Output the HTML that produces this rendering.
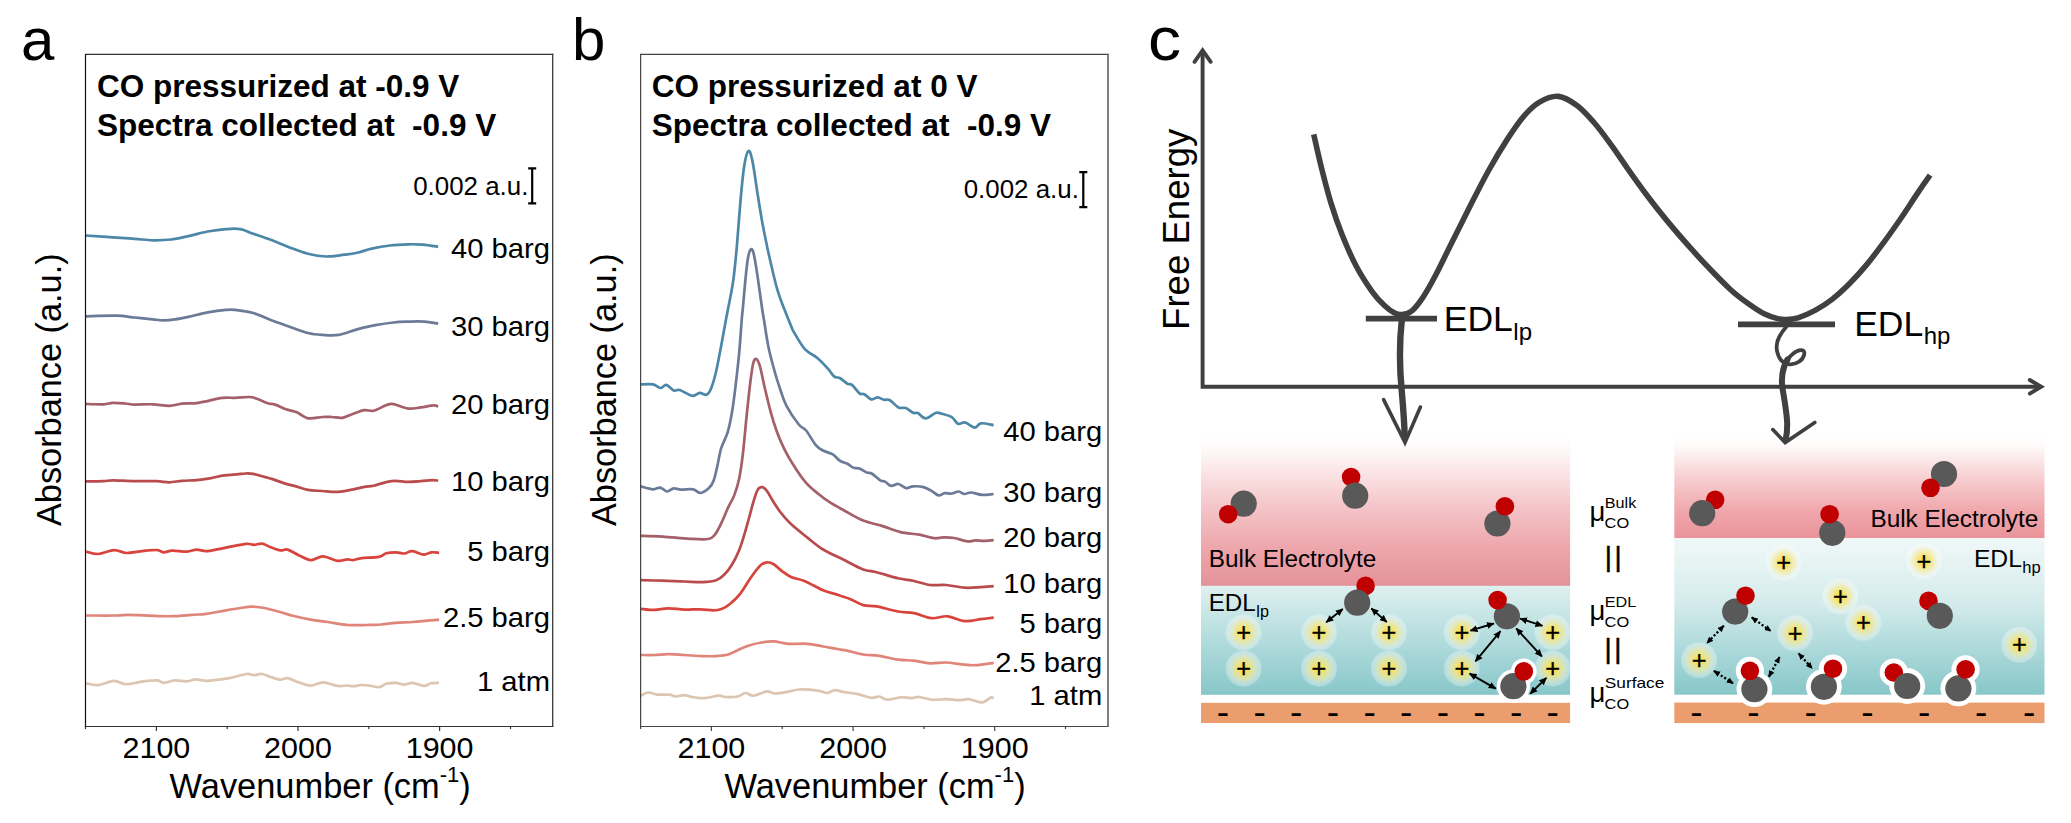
<!DOCTYPE html>
<html><head><meta charset="utf-8"><title>Figure</title>
<style>html,body{margin:0;padding:0;background:#fff}svg{display:block}text{font-family:"Liberation Sans",Arial,sans-serif;fill:#000}</style></head><body>
<svg width="2071" height="823" viewBox="0 0 2071 823">
<defs>
<linearGradient id="pinkL" x1="0" y1="0" x2="0" y2="1"><stop offset="0" stop-color="#fff"/><stop offset="0.08" stop-color="#fffafa"/><stop offset="0.45" stop-color="#f5c8cb"/><stop offset="0.75" stop-color="#eda6ab"/><stop offset="1" stop-color="#e4929a"/></linearGradient>
<linearGradient id="pinkR" x1="0" y1="0" x2="0" y2="1"><stop offset="0" stop-color="#fff"/><stop offset="0.1" stop-color="#fffafa"/><stop offset="0.45" stop-color="#f6c9cc"/><stop offset="0.75" stop-color="#efa6ab"/><stop offset="1" stop-color="#ea939a"/></linearGradient>
<linearGradient id="tealL" x1="0" y1="0" x2="0" y2="1"><stop offset="0" stop-color="#def0f0"/><stop offset="1" stop-color="#87c7c9"/></linearGradient>
<linearGradient id="tealR" x1="0" y1="0" x2="0" y2="1"><stop offset="0" stop-color="#f0f8f8"/><stop offset="0.4" stop-color="#d6ecec"/><stop offset="1" stop-color="#87c7c9"/></linearGradient>
<radialGradient id="glow"><stop offset="0" stop-color="#f6e25c" stop-opacity="1"/><stop offset="0.28" stop-color="#f6e25e" stop-opacity="0.95"/><stop offset="0.62" stop-color="#f4e680" stop-opacity="0.55"/><stop offset="1" stop-color="#f3ecaa" stop-opacity="0"/></radialGradient>
<radialGradient id="halo"><stop offset="0" stop-color="#fff" stop-opacity="0.36"/><stop offset="0.9" stop-color="#fff" stop-opacity="0.33"/><stop offset="1" stop-color="#fff" stop-opacity="0"/></radialGradient>
<marker id="ah" viewBox="0 0 10 10" refX="9" refY="5" markerWidth="7.8" markerHeight="7.8" markerUnits="userSpaceOnUse" orient="auto-start-reverse"><path d="M0 0.6L10 5L0 9.4z" fill="#000"/></marker>
<marker id="ahs" viewBox="0 0 10 10" refX="9" refY="5" markerWidth="6.8" markerHeight="6.8" markerUnits="userSpaceOnUse" orient="auto-start-reverse"><path d="M0 0.6L10 5L0 9.4z" fill="#000"/></marker>
</defs>

<rect width="2071" height="823" fill="#fff"/>
<g>
<text x="21.0" y="59.6" font-size="60">a</text>
<path d="M86.1 683.3C88.1 683.6 93.5 685.4 98.2 685.0C102.9 684.6 109.5 680.9 114.0 680.8C118.5 680.7 120.9 684.0 124.9 684.2C129.0 684.5 134.5 682.9 138.3 682.3C142.2 681.7 144.8 681.1 148.0 680.8C151.2 680.5 155.1 680.1 157.7 680.4C160.3 680.7 161.0 682.8 163.8 682.8C166.7 682.8 171.0 680.6 174.8 680.4C178.7 680.1 183.4 681.5 186.9 681.3C190.4 681.1 192.9 679.5 196.1 679.4C199.3 679.3 202.6 680.8 206.3 680.8C210.0 680.8 214.4 680.1 218.5 679.6C222.6 679.1 225.9 678.8 230.6 677.9C235.2 677.0 242.6 674.5 246.4 674.0C250.2 673.5 251.1 675.2 253.7 675.2C256.3 675.2 259.2 673.6 262.2 674.0C265.2 674.4 268.9 676.5 271.9 677.4C274.9 678.3 277.8 679.5 280.4 679.6C283.0 679.7 284.6 677.8 287.7 678.2C290.8 678.7 294.8 681.0 298.7 682.3C302.6 683.5 306.8 685.7 310.8 685.7C314.9 685.7 318.6 682.3 323.0 682.3C327.4 682.3 333.4 685.4 337.5 685.9C341.6 686.4 344.7 685.5 347.3 685.5C349.9 685.5 350.9 686.3 353.3 686.2C355.7 686.1 359.2 685.1 361.8 685.0C364.4 684.9 366.2 685.1 369.1 685.5C372.0 685.9 376.5 687.5 379.3 687.2C382.1 686.9 383.4 684.5 386.1 683.8C388.9 683.1 392.8 682.7 395.8 682.8C398.8 682.9 401.5 684.5 404.3 684.5C407.1 684.5 409.1 682.6 412.4 682.8C415.6 683.0 420.7 685.8 423.8 685.9C426.9 686.0 428.6 683.8 431.1 683.3C433.7 682.8 437.8 682.9 439.1 682.8" fill="none" stroke="#dcc5b1" stroke-width="2.7" stroke-linecap="butt" stroke-linejoin="round"/>
<path d="M86.1 615.5C91.1 615.5 109.3 615.6 116.4 615.5C123.5 615.4 123.3 614.8 128.6 614.8C133.9 614.8 140.7 615.5 148.0 615.7C155.3 615.9 165.0 616.4 172.3 616.2C179.6 616.1 186.1 615.2 191.8 614.8C197.5 614.4 200.6 614.5 206.3 613.8C212.0 613.1 220.1 611.4 225.8 610.4C231.5 609.4 236.2 608.6 240.4 608.0C244.7 607.4 247.3 606.7 251.3 606.7C255.3 606.7 260.0 607.1 264.6 608.0C269.2 608.9 274.3 610.5 279.2 611.8C284.1 613.1 288.5 614.7 293.8 616.0C299.1 617.3 305.1 618.6 310.8 619.6C316.5 620.6 321.7 621.1 327.8 622.0C333.9 622.9 340.8 624.5 347.3 625.0C353.8 625.5 361.0 625.1 366.7 625.0C372.4 624.9 376.4 624.9 381.3 624.5C386.2 624.1 390.6 623.2 395.8 622.8C401.1 622.4 407.5 622.4 412.8 622.0C418.1 621.6 423.0 621.0 427.4 620.6C431.8 620.2 437.2 619.8 439.1 619.6" fill="none" stroke="#e08579" stroke-width="2.7" stroke-linecap="butt" stroke-linejoin="round"/>
<path d="M86.1 551.6C88.1 552.0 93.5 554.2 98.2 554.0C102.9 553.8 109.3 550.3 114.0 550.1C118.7 549.9 122.2 552.8 126.2 553.0C130.2 553.2 134.7 552.0 138.3 551.6C141.9 551.2 144.8 550.6 148.0 550.4C151.2 550.1 155.1 549.8 157.7 550.1C160.3 550.4 161.4 552.2 163.8 552.3C166.2 552.4 168.5 550.7 172.3 550.6C176.2 550.5 182.9 551.8 186.9 551.6C190.9 551.4 193.4 549.7 196.6 549.6C199.8 549.5 202.7 551.2 206.3 551.1C210.0 551.0 214.4 549.9 218.5 549.2C222.6 548.5 225.9 547.6 230.6 546.7C235.2 545.8 242.6 544.1 246.4 543.8C250.2 543.5 251.1 544.8 253.7 544.8C256.3 544.8 259.4 543.2 262.2 543.6C265.0 544.0 267.7 546.1 270.7 547.2C273.7 548.3 277.6 550.0 280.4 550.4C283.2 550.8 284.6 548.8 287.7 549.6C290.8 550.4 294.8 553.5 298.7 555.2C302.6 557.0 306.8 559.9 310.8 560.1C314.9 560.3 318.6 556.3 323.0 556.4C327.4 556.5 333.4 560.3 337.5 560.8C341.6 561.3 344.7 559.5 347.3 559.4C349.9 559.3 350.9 560.3 353.3 560.1C355.7 559.9 357.6 558.6 361.8 558.1C366.1 557.6 374.8 557.7 378.8 556.9C382.9 556.1 383.3 554.1 386.1 553.3C388.9 552.5 392.8 552.3 395.8 552.3C398.8 552.3 401.5 553.7 404.3 553.5C407.1 553.3 409.1 550.9 412.4 551.1C415.6 551.3 420.7 554.5 423.8 554.7C426.9 554.9 428.6 552.6 431.1 552.3C433.7 552.0 437.8 552.7 439.1 552.8" fill="none" stroke="#d8443c" stroke-width="2.7" stroke-linecap="butt" stroke-linejoin="round"/>
<path d="M85.5 481.4C88.5 481.4 99.2 481.4 103.7 481.2C108.2 481.0 107.6 480.3 112.8 480.3C118.0 480.3 127.4 481.1 134.7 481.2C142.0 481.3 150.8 481.0 156.6 481.2C162.4 481.4 165.1 482.4 169.3 482.3C173.6 482.2 177.5 481.2 182.1 480.8C186.7 480.4 191.8 480.6 196.7 480.1C201.5 479.7 206.6 478.9 211.2 478.1C215.8 477.3 219.7 476.0 224.0 475.4C228.3 474.8 233.2 474.6 236.8 474.3C240.5 474.0 243.2 473.6 245.9 473.5C248.6 473.4 250.5 473.4 253.2 473.9C255.9 474.4 259.0 475.4 262.3 476.3C265.6 477.2 269.2 478.1 273.2 479.4C277.1 480.7 282.4 482.8 286.0 483.9C289.6 485.0 291.5 485.1 295.1 486.1C298.8 487.1 303.3 489.1 307.9 489.9C312.4 490.7 318.5 490.7 322.4 491.0C326.3 491.3 328.4 491.7 331.5 491.8C334.6 491.9 337.1 492.0 340.7 491.6C344.3 491.2 349.4 490.2 353.4 489.4C357.3 488.6 361.0 487.4 364.4 486.8C367.8 486.2 369.9 486.5 373.5 485.7C377.1 484.9 382.6 482.9 386.2 482.1C389.8 481.3 391.6 480.8 395.3 480.8C399.0 480.8 403.8 481.8 408.1 481.9C412.4 482.0 416.9 481.5 420.9 481.2C424.8 480.9 428.9 480.2 431.8 480.1C434.7 480.0 437.1 480.5 438.2 480.6" fill="none" stroke="#b94b4d" stroke-width="2.7" stroke-linecap="butt" stroke-linejoin="round"/>
<path d="M85.5 403.9C88.5 404.0 99.2 404.5 103.7 404.3C108.2 404.1 109.2 402.9 112.8 402.8C116.4 402.7 121.9 403.2 125.6 403.5C129.2 403.8 130.1 404.5 134.7 404.6C139.2 404.7 147.1 404.1 152.9 404.3C158.7 404.5 164.4 406.0 169.3 405.9C174.2 405.8 177.2 404.2 182.1 403.7C187.0 403.2 191.8 403.8 198.5 402.8C205.2 401.8 216.1 398.7 222.2 397.9C228.3 397.1 230.3 398.0 234.9 397.9C239.5 397.8 245.8 396.9 249.5 397.0C253.2 397.1 253.8 397.8 256.8 398.8C259.8 399.8 264.7 402.2 267.7 403.2C270.7 404.2 271.9 403.6 275.0 404.6C278.1 405.6 282.4 407.9 286.0 409.2C289.6 410.5 293.2 410.8 296.9 412.3C300.5 413.8 303.6 417.5 307.9 418.3C312.1 419.1 318.5 417.2 322.4 417.0C326.3 416.8 328.1 416.9 331.5 417.0C334.9 417.1 338.9 418.4 342.5 417.8C346.1 417.2 349.8 415.0 353.4 413.7C357.0 412.4 361.0 410.6 364.4 410.1C367.8 409.6 369.9 411.6 373.5 410.8C377.1 410.0 382.9 406.3 386.2 405.2C389.5 404.1 389.9 403.5 393.5 404.1C397.1 404.7 403.5 408.1 408.1 408.6C412.7 409.2 416.6 407.9 420.9 407.4C425.1 406.9 430.7 405.5 433.6 405.4C436.5 405.2 437.4 406.3 438.2 406.5" fill="none" stroke="#a45f69" stroke-width="2.7" stroke-linecap="butt" stroke-linejoin="round"/>
<path d="M85.5 316.3C90.7 316.2 108.3 315.5 116.5 315.7C124.7 315.9 128.6 316.9 134.7 317.5C140.8 318.1 148.0 318.9 152.9 319.4C157.8 319.9 160.2 320.3 163.9 320.3C167.6 320.3 170.6 320.0 174.8 319.4C179.1 318.8 183.9 317.8 189.4 316.6C194.9 315.4 201.5 313.5 207.6 312.4C213.7 311.3 221.2 310.3 225.8 309.9C230.4 309.5 230.3 309.4 234.9 309.9C239.5 310.4 247.1 311.3 253.2 313.0C259.3 314.7 265.3 318.0 271.4 320.3C277.5 322.6 283.5 324.6 289.6 326.7C295.7 328.8 302.4 331.6 307.9 333.0C313.4 334.4 317.2 334.6 322.4 334.9C327.5 335.2 333.0 335.8 338.8 334.9C344.6 334.0 351.0 331.0 357.1 329.4C363.2 327.8 369.2 326.3 375.3 325.2C381.4 324.1 388.0 323.1 393.5 322.5C399.0 321.9 402.9 321.8 408.1 321.6C413.3 321.5 419.5 321.3 424.5 321.6C429.5 321.9 435.9 323.3 438.2 323.6" fill="none" stroke="#6b7b97" stroke-width="2.7" stroke-linecap="butt" stroke-linejoin="round"/>
<path d="M85.5 235.5C90.7 235.9 108.3 237.1 116.5 237.7C124.7 238.2 128.6 238.4 134.7 238.8C140.8 239.2 146.8 240.2 152.9 240.3C159.0 240.4 165.0 240.2 171.1 239.5C177.2 238.8 183.3 237.2 189.4 235.9C195.5 234.6 201.5 232.6 207.6 231.5C213.7 230.4 220.3 229.5 225.8 229.1C231.3 228.7 235.8 228.3 240.4 229.1C245.0 229.9 248.0 231.9 253.2 233.7C258.4 235.5 265.3 237.8 271.4 240.1C277.5 242.4 283.5 245.1 289.6 247.4C295.7 249.7 301.8 252.2 307.9 253.7C314.0 255.2 320.0 256.3 326.1 256.5C332.2 256.7 339.1 255.3 344.3 254.7C349.5 254.1 352.5 253.8 357.1 252.8C361.7 251.8 366.2 249.8 371.7 248.6C377.2 247.4 383.8 246.2 389.9 245.5C396.0 244.8 402.6 244.5 408.1 244.3C413.6 244.2 417.7 244.2 422.7 244.6C427.7 245.0 435.6 246.4 438.2 246.8" fill="none" stroke="#4c87a8" stroke-width="2.7" stroke-linecap="butt" stroke-linejoin="round"/>
<path d="M84.90 54.40H553.30" stroke="#333" stroke-width="1.2" fill="none"/>
<path d="M84.90 726.40H553.30" stroke="#333" stroke-width="1.05" fill="none"/>
<path d="M85.50 54.40V726.40" stroke="#111" stroke-width="1.2" fill="none"/>
<path d="M552.70 53.80V726.90" stroke="#3a3a3a" stroke-width="1.30" fill="none"/>
<line x1="85.5" y1="726.4" x2="85.5" y2="729.0" stroke="#333" stroke-width="1.2"/>
<line x1="156.4" y1="726.4" x2="156.4" y2="730.9" stroke="#333" stroke-width="1.2"/>
<line x1="227.2" y1="726.4" x2="227.2" y2="729.0" stroke="#333" stroke-width="1.2"/>
<line x1="298.0" y1="726.4" x2="298.0" y2="730.9" stroke="#333" stroke-width="1.2"/>
<line x1="368.8" y1="726.4" x2="368.8" y2="729.0" stroke="#333" stroke-width="1.2"/>
<line x1="439.6" y1="726.4" x2="439.6" y2="730.9" stroke="#333" stroke-width="1.2"/>
<line x1="510.5" y1="726.4" x2="510.5" y2="729.0" stroke="#333" stroke-width="1.2"/>
<text transform="translate(156.4 757.8) scale(1.03 1)" font-size="29.6" text-anchor="middle">2100</text>
<text transform="translate(298.0 757.8) scale(1.03 1)" font-size="29.6" text-anchor="middle">2000</text>
<text transform="translate(439.6 757.8) scale(1.03 1)" font-size="29.6" text-anchor="middle">1900</text>
<text transform="translate(550.0 258.3) scale(1.024 1)" font-size="28.5" text-anchor="end">40 barg</text>
<text transform="translate(550.0 336.1) scale(1.024 1)" font-size="28.5" text-anchor="end">30 barg</text>
<text transform="translate(550.0 413.9) scale(1.024 1)" font-size="28.5" text-anchor="end">20 barg</text>
<text transform="translate(550.0 491.0) scale(1.024 1)" font-size="28.5" text-anchor="end">10 barg</text>
<text transform="translate(550.0 560.5) scale(1.024 1)" font-size="28.5" text-anchor="end">5 barg</text>
<text transform="translate(550.0 626.8) scale(1.024 1)" font-size="28.5" text-anchor="end">2.5 barg</text>
<text transform="translate(550.0 691.4) scale(1.024 1)" font-size="28.5" text-anchor="end">1 atm</text>
<text x="97.0" y="97" font-size="31.5" font-weight="bold">CO pressurized at -0.9 V</text>
<text x="97.0" y="135.9" font-size="31.5" font-weight="bold" xml:space="preserve" style="white-space:pre">Spectra collected at  -0.9 V</text>
<text transform="translate(528.4 194.7) scale(1.028 1)" font-size="25.2" text-anchor="end">0.002 a.u.</text>
<path d="M528.2 168.4H536.2M528.2 203.4H536.2M532.2 168.4V203.4" stroke="#000" stroke-width="2.2" fill="none"/>
<text transform="translate(61.0 389.7) rotate(-90)" font-size="34.3" text-anchor="middle">Absorbance (a.u.)</text>
<text x="169.6" y="798.2" font-size="34.4">Wavenumber (cm<tspan font-size="22" dy="-16.3">-1</tspan><tspan dy="16.3">)</tspan></text>
</g>
<g>
<text x="572.0" y="59.6" font-size="60">b</text>
<path d="M640.8 695.9C642.0 695.3 645.2 692.7 648.0 692.5C650.8 692.3 653.8 694.2 657.4 694.6C661.0 695.0 666.3 694.3 669.4 694.6C672.5 694.9 673.6 696.4 676.1 696.5C678.6 696.6 681.4 695.0 684.1 695.1C686.8 695.2 688.8 696.5 692.1 697.0C695.5 697.5 699.7 698.3 704.2 698.1C708.7 697.9 715.4 695.9 718.9 695.7C722.4 695.5 722.4 696.9 725.5 697.0C728.6 697.1 734.2 697.2 737.6 696.5C741.0 695.8 742.9 693.1 745.6 693.0C748.3 692.9 750.0 696.0 753.6 695.7C757.2 695.4 763.4 691.8 767.0 691.4C770.6 691.0 771.4 693.5 775.0 693.5C778.6 693.5 784.4 692.4 788.4 691.7C792.4 691.0 794.2 689.7 799.1 689.5C804.0 689.3 813.1 690.0 817.8 690.6C822.5 691.2 824.2 693.1 827.1 693.0C830.0 692.9 832.2 690.2 835.1 690.1C838.0 690.0 840.7 691.5 844.5 692.2C848.3 692.9 853.4 693.2 857.9 694.1C862.4 695.0 867.7 697.4 871.2 697.8C874.8 698.2 876.5 696.2 879.2 696.5C881.9 696.8 883.7 699.6 887.3 699.7C890.9 699.8 896.6 697.6 900.6 697.3C904.6 697.0 908.2 698.1 911.3 698.1C914.4 698.1 915.7 696.7 919.3 697.0C922.9 697.3 928.2 699.5 932.7 699.9C937.2 700.2 941.7 699.0 946.1 699.1C950.5 699.2 955.6 700.2 959.4 700.2C963.2 700.2 965.0 698.7 968.8 699.1C972.6 699.5 978.6 702.6 982.2 702.4C985.8 702.2 988.3 698.6 990.2 697.8C992.1 697.0 993.1 697.8 993.7 697.8" fill="none" stroke="#dcc5b1" stroke-width="2.7" stroke-linecap="butt" stroke-linejoin="round"/>
<path d="M640.8 655.0C643.1 655.0 650.2 655.1 654.7 655.0C659.2 654.9 663.2 654.2 668.1 654.2C673.0 654.2 678.3 654.7 684.1 655.0C689.9 655.3 697.4 655.9 702.8 656.1C708.1 656.3 712.0 656.4 716.2 656.1C720.4 655.8 724.6 655.5 728.2 654.5C731.8 653.5 734.2 651.7 737.6 650.2C741.0 648.7 744.3 647.0 748.3 645.7C752.3 644.4 757.4 643.2 761.6 642.5C765.8 641.8 769.2 641.2 773.7 641.4C778.2 641.6 782.8 643.4 788.4 643.8C794.0 644.2 801.3 643.3 807.1 643.8C812.9 644.2 816.9 645.4 823.1 646.5C829.3 647.6 837.8 648.9 844.5 650.2C851.2 651.5 857.4 653.6 863.2 654.5C869.0 655.4 873.4 654.9 879.2 655.8C885.0 656.6 892.2 658.8 898.0 659.6C903.8 660.4 908.7 660.1 914.0 660.7C919.3 661.3 924.6 663.0 930.0 663.3C935.4 663.6 940.8 662.3 946.1 662.5C951.5 662.7 957.2 663.9 962.1 664.4C967.0 664.9 970.2 665.5 975.5 665.2C980.8 664.9 990.7 663.2 993.7 662.8" fill="none" stroke="#e08579" stroke-width="2.7" stroke-linecap="butt" stroke-linejoin="round"/>
<path d="M640.8 608.8C643.1 609.0 650.2 610.0 654.7 609.9C659.2 609.8 663.2 608.3 668.1 608.3C673.0 608.2 678.8 609.4 684.1 609.6C689.5 609.8 695.3 609.2 700.2 609.3C705.1 609.4 710.0 610.4 713.5 610.4C717.0 610.4 718.8 610.1 721.5 609.1C724.2 608.1 726.5 606.8 729.6 604.2C732.7 601.6 736.8 598.1 740.3 593.6C743.8 589.1 747.6 582.2 750.9 577.5C754.2 572.8 757.6 568.0 760.3 565.5C763.0 563.0 764.8 562.5 767.0 562.3C769.2 562.1 771.2 562.8 773.7 564.2C776.2 565.6 778.8 568.7 781.7 570.8C784.6 572.9 787.2 575.3 791.0 577.0C794.8 578.7 799.0 578.8 804.4 581.0C809.8 583.2 817.8 588.1 823.1 590.3C828.5 592.5 832.0 593.0 836.5 594.4C841.0 595.8 845.4 597.1 849.9 598.9C854.4 600.7 858.8 603.9 863.2 605.1C867.7 606.4 870.8 605.3 876.6 606.4C882.4 607.5 891.8 610.4 898.0 611.5C904.2 612.6 908.4 612.0 914.0 613.1C919.6 614.2 925.8 617.7 931.4 618.2C937.0 618.7 941.8 615.8 947.4 616.3C953.0 616.8 959.2 620.6 964.8 621.1C970.4 621.6 976.0 619.8 980.8 619.2C985.6 618.6 991.6 617.9 993.7 617.6" fill="none" stroke="#d8443c" stroke-width="2.7" stroke-linecap="butt" stroke-linejoin="round"/>
<path d="M640.8 580.2C644.4 580.3 655.5 580.5 662.7 580.7C669.9 580.9 677.4 581.3 684.1 581.5C690.8 581.7 697.4 582.3 702.8 582.1C708.1 581.9 712.6 581.4 716.2 580.2C719.8 579.0 721.5 577.5 724.2 574.8C726.9 572.1 729.8 568.2 732.2 564.2C734.7 560.2 736.9 555.7 738.9 550.8C740.9 545.9 742.5 540.5 744.3 534.7C746.1 528.9 748.2 521.0 749.6 516.0C751.0 511.0 751.3 508.9 752.6 504.6C753.9 500.3 755.9 493.0 757.5 490.1C759.1 487.2 760.7 487.0 762.3 487.2C763.9 487.4 765.5 489.2 767.2 491.3C768.9 493.4 770.1 496.6 772.3 500.0C774.5 503.4 777.2 508.0 780.3 512.0C783.4 516.0 786.5 519.9 791.0 524.1C795.5 528.3 801.8 533.2 807.1 537.4C812.5 541.6 817.3 545.9 823.1 549.5C828.9 553.1 835.1 555.5 841.8 558.8C848.5 562.1 857.4 567.3 863.2 569.5C869.0 571.7 870.8 570.7 876.6 572.2C882.4 573.7 891.8 576.8 898.0 578.3C904.2 579.8 908.7 579.9 914.0 581.0C919.3 582.1 924.6 584.3 930.0 585.0C935.4 585.7 940.3 584.5 946.1 585.0C951.9 585.5 959.0 587.4 964.8 587.7C970.6 588.1 976.0 587.4 980.8 587.1C985.6 586.8 991.6 586.3 993.7 586.1" fill="none" stroke="#b94b4d" stroke-width="2.7" stroke-linecap="butt" stroke-linejoin="round"/>
<path d="M640.8 535.8C644.4 535.9 654.6 536.1 662.7 536.6C670.8 537.1 681.9 538.4 689.5 538.8C697.1 539.2 704.0 539.7 708.2 539.0C712.4 538.3 712.7 537.4 714.9 534.7C717.1 532.0 719.3 527.3 721.5 522.7C723.7 518.1 726.1 511.7 728.3 507.1C730.4 502.5 732.6 499.8 734.4 494.9C736.2 490.0 737.9 484.8 739.3 477.9C740.7 471.0 741.7 463.7 742.9 453.6C744.1 443.5 745.3 428.9 746.5 417.2C747.7 405.5 749.1 392.1 750.2 383.2C751.3 374.3 752.1 367.8 753.1 363.7C754.1 359.6 755.2 358.5 756.3 358.9C757.4 359.3 758.5 361.3 759.9 366.2C761.3 371.1 763.0 380.3 764.8 388.0C766.6 395.7 768.8 405.0 770.8 412.3C772.8 419.6 774.7 425.7 776.9 431.8C779.1 437.9 781.4 443.1 784.2 448.8C787.0 454.5 790.2 460.1 793.9 465.8C797.5 471.5 802.0 478.2 806.1 482.8C810.2 487.4 814.2 490.4 818.2 493.7C822.2 497.0 826.0 499.9 830.4 502.7C834.8 505.5 839.0 507.7 844.5 510.7C850.0 513.7 857.0 518.1 863.2 520.6C869.4 523.1 875.7 524.0 881.9 525.9C888.1 527.8 894.4 530.6 900.6 532.1C906.8 533.6 913.7 533.7 919.3 534.7C924.9 535.7 930.0 537.8 934.0 538.2C938.0 538.7 940.0 537.4 943.4 537.4C946.8 537.4 950.1 537.3 954.1 538.0C958.1 538.7 963.9 541.0 967.5 541.4C971.1 541.8 972.8 540.5 975.5 540.4C978.2 540.3 980.5 540.9 983.5 540.9C986.5 540.9 992.0 540.2 993.7 540.1" fill="none" stroke="#a45f69" stroke-width="2.7" stroke-linecap="butt" stroke-linejoin="round"/>
<path d="M640.9 486.4C642.9 486.9 649.8 489.1 653.0 489.3C656.2 489.5 657.9 487.2 660.3 487.6C662.6 488.0 664.9 491.4 667.1 491.5C669.3 491.6 671.4 488.7 673.7 488.4C676.0 488.1 677.7 489.5 680.9 489.6C684.1 489.8 689.9 488.7 693.1 489.3C696.4 489.9 697.8 493.2 700.4 493.0C703.0 492.8 706.7 490.2 708.9 488.1C711.1 486.0 712.3 484.1 713.7 480.4C715.1 476.7 716.2 471.1 717.4 465.8C718.6 460.5 719.3 454.5 721.0 448.8C722.7 443.1 726.0 437.9 727.8 431.8C729.6 425.7 730.7 420.0 732.0 412.3C733.3 404.6 734.4 395.7 735.6 385.6C736.8 375.5 738.3 362.5 739.3 351.6C740.3 340.7 741.1 327.3 741.7 320.0C742.3 312.7 742.3 314.1 742.9 307.6C743.5 301.1 744.5 289.0 745.3 280.9C746.1 272.8 746.9 264.3 747.8 259.0C748.7 253.7 749.9 250.1 750.9 249.3C751.9 248.5 752.7 249.8 753.8 254.2C754.9 258.6 756.1 266.7 757.5 276.0C758.9 285.3 761.2 302.7 762.3 310.0C763.4 317.3 763.0 313.9 764.0 320.0C765.0 326.1 766.6 338.2 768.4 346.7C770.1 355.2 772.5 363.7 774.5 371.0C776.5 378.3 778.6 384.6 780.6 390.5C782.6 396.4 783.6 400.5 786.6 406.2C789.6 411.9 795.5 420.4 798.8 424.5C802.0 428.6 803.3 427.1 806.1 430.5C808.9 433.9 813.0 441.8 815.8 445.1C818.6 448.4 820.3 448.9 823.1 450.5C825.9 452.1 830.0 452.7 832.8 454.4C835.6 456.1 837.7 459.3 840.1 460.9C842.5 462.5 845.2 462.7 847.4 463.8C849.6 464.9 851.4 466.9 853.4 467.7C855.4 468.5 857.3 467.6 859.5 468.4C861.7 469.2 864.8 471.8 866.8 472.6C868.8 473.5 869.5 472.2 871.7 473.5C873.9 474.8 878.0 479.0 880.2 480.4C882.4 481.8 883.2 480.7 885.0 481.6C886.8 482.5 888.9 485.5 891.1 485.9C893.3 486.3 895.9 483.6 898.4 484.0C900.9 484.4 903.8 487.7 906.2 488.1C908.6 488.5 910.2 486.6 913.0 486.4C915.8 486.2 919.7 486.2 922.7 486.9C925.7 487.6 928.6 489.2 931.2 490.6C933.8 492.0 936.3 495.0 938.5 495.4C940.7 495.8 942.4 493.5 944.6 493.2C946.8 492.9 949.5 493.8 951.8 493.5C954.1 493.2 956.5 491.4 958.6 491.5C960.7 491.6 962.5 493.8 964.5 494.0C966.5 494.2 967.8 492.4 970.8 492.5C973.8 492.6 978.4 494.6 982.2 494.9C986.0 495.1 991.7 494.1 993.6 494.0" fill="none" stroke="#6b7b97" stroke-width="2.7" stroke-linecap="butt" stroke-linejoin="round"/>
<path d="M640.9 384.4C642.9 384.4 649.8 383.8 653.0 384.4C656.2 385.0 658.1 387.9 660.3 388.0C662.5 388.1 664.2 384.5 666.4 384.9C668.6 385.3 671.5 389.6 673.7 390.5C675.9 391.4 676.6 389.1 679.7 390.0C682.8 390.9 689.1 395.3 692.4 395.8C695.7 396.3 697.4 393.1 699.7 392.9C702.1 392.7 704.6 395.6 706.5 394.8C708.4 394.0 709.7 392.0 711.3 388.0C712.9 384.0 714.6 377.9 716.2 371.0C717.8 364.1 719.4 355.2 721.0 346.7C722.6 338.2 724.7 326.5 725.9 320.0C727.1 313.5 727.1 314.1 728.3 307.6C729.5 301.1 731.8 291.0 733.2 280.9C734.6 270.8 735.6 260.3 736.8 246.9C738.0 233.5 739.3 214.1 740.5 200.7C741.7 187.3 742.8 175.0 744.1 166.7C745.4 158.4 747.1 151.7 748.5 150.9C749.9 150.1 751.1 154.8 752.6 161.9C754.1 169.0 755.9 183.3 757.5 193.4C759.1 203.5 760.7 213.7 762.3 222.6C763.9 231.5 765.6 239.2 767.2 246.9C768.8 254.6 770.5 261.9 772.1 268.8C773.7 275.7 775.3 282.5 776.9 288.2C778.5 293.9 780.2 298.4 781.8 302.8C783.4 307.2 785.0 310.8 786.6 314.9C788.2 318.9 790.3 324.2 791.5 327.1C792.7 330.0 791.7 328.4 793.9 332.1C796.1 335.8 801.0 344.9 804.9 349.2C808.8 353.5 813.2 354.5 817.0 357.7C820.8 360.9 825.1 365.5 827.9 368.6C830.7 371.7 832.0 374.8 834.0 376.4C836.0 378.0 837.9 377.1 840.1 378.3C842.3 379.5 845.4 382.6 847.4 383.7C849.4 384.8 850.2 383.5 852.2 385.1C854.2 386.7 857.5 391.9 859.5 393.4C861.5 394.9 862.4 393.3 864.4 394.3C866.4 395.3 869.0 398.9 871.2 399.4C873.4 399.9 875.6 397.2 877.7 397.3C879.8 397.4 881.8 399.2 883.8 399.7C885.8 400.2 887.5 398.9 889.9 400.2C892.3 401.5 895.8 406.2 898.4 407.5C901.0 408.8 903.3 407.1 905.7 408.0C908.1 408.9 911.0 411.9 913.0 412.8C915.0 413.7 915.7 412.2 917.8 413.1C919.9 414.0 922.6 418.4 925.6 418.4C928.6 418.3 933.2 413.6 936.0 412.8C938.8 412.0 939.5 413.1 942.1 413.8C944.7 414.5 949.2 415.6 951.8 417.2C954.4 418.8 955.7 422.8 957.9 423.7C960.1 424.6 962.4 421.9 965.2 422.5C968.0 423.1 972.3 427.5 974.9 427.6C977.5 427.7 977.9 423.7 981.0 423.3C984.1 422.9 991.5 424.9 993.6 425.2" fill="none" stroke="#4c87a8" stroke-width="2.7" stroke-linecap="butt" stroke-linejoin="round"/>
<path d="M640.00 54.40H1108.60" stroke="#444" stroke-width="1.2" fill="none"/>
<path d="M640.00 726.40H1108.60" stroke="#444" stroke-width="1.05" fill="none"/>
<path d="M640.60 54.40V726.40" stroke="#444" stroke-width="1.2" fill="none"/>
<path d="M1108.00 53.80V726.90" stroke="#707070" stroke-width="1.80" fill="none"/>
<line x1="640.6" y1="726.4" x2="640.6" y2="729.0" stroke="#444" stroke-width="1.2"/>
<line x1="711.4" y1="726.4" x2="711.4" y2="730.9" stroke="#444" stroke-width="1.2"/>
<line x1="782.2" y1="726.4" x2="782.2" y2="729.0" stroke="#444" stroke-width="1.2"/>
<line x1="853.1" y1="726.4" x2="853.1" y2="730.9" stroke="#444" stroke-width="1.2"/>
<line x1="923.9" y1="726.4" x2="923.9" y2="729.0" stroke="#444" stroke-width="1.2"/>
<line x1="994.7" y1="726.4" x2="994.7" y2="730.9" stroke="#444" stroke-width="1.2"/>
<line x1="1065.5" y1="726.4" x2="1065.5" y2="729.0" stroke="#444" stroke-width="1.2"/>
<text transform="translate(711.4 757.8) scale(1.03 1)" font-size="29.6" text-anchor="middle">2100</text>
<text transform="translate(853.1 757.8) scale(1.03 1)" font-size="29.6" text-anchor="middle">2000</text>
<text transform="translate(994.7 757.8) scale(1.03 1)" font-size="29.6" text-anchor="middle">1900</text>
<text transform="translate(1102.2 440.8) scale(1.024 1)" font-size="28.5" text-anchor="end">40 barg</text>
<text transform="translate(1102.2 501.8) scale(1.024 1)" font-size="28.5" text-anchor="end">30 barg</text>
<text transform="translate(1102.2 547.3) scale(1.024 1)" font-size="28.5" text-anchor="end">20 barg</text>
<text transform="translate(1102.2 593.2) scale(1.024 1)" font-size="28.5" text-anchor="end">10 barg</text>
<text transform="translate(1102.2 633.2) scale(1.024 1)" font-size="28.5" text-anchor="end">5 barg</text>
<text transform="translate(1102.2 672.0) scale(1.024 1)" font-size="28.5" text-anchor="end">2.5 barg</text>
<text transform="translate(1102.2 705.4) scale(1.024 1)" font-size="28.5" text-anchor="end">1 atm</text>
<text x="651.8" y="97" font-size="31.5" font-weight="bold">CO pressurized at 0 V</text>
<text x="651.8" y="135.9" font-size="31.5" font-weight="bold" xml:space="preserve" style="white-space:pre">Spectra collected at  -0.9 V</text>
<text transform="translate(1078.9 198.3) scale(1.028 1)" font-size="25.2" text-anchor="end">0.002 a.u.</text>
<path d="M1079.3 172.1H1087.3M1079.3 207.1H1087.3M1083.3 172.1V207.1" stroke="#000" stroke-width="2.2" fill="none"/>
<text transform="translate(616.0 389.7) rotate(-90)" font-size="34.3" text-anchor="middle">Absorbance (a.u.)</text>
<text x="724.5" y="798.2" font-size="34.4">Wavenumber (cm<tspan font-size="22" dy="-16.3">-1</tspan><tspan dy="16.3">)</tspan></text>
</g>
<g>
<text x="1148" y="60.1" font-size="61" textLength="33" lengthAdjust="spacingAndGlyphs">c</text>
<rect x="1201" y="436" width="369.1" height="150" fill="url(#pinkL)"/>
<rect x="1201" y="585.8" width="369.1" height="109" fill="url(#tealL)"/>
<rect x="1201" y="702.8" width="369.1" height="20.2" fill="#ec9d6d"/>
<rect x="1674.3" y="436" width="370.2" height="102.2" fill="url(#pinkR)"/>
<rect x="1674.3" y="538" width="370.2" height="156.7" fill="url(#tealR)"/>
<rect x="1674.3" y="702.6" width="370.2" height="20.5" fill="#ec9d6d"/>
<path d="M1202.6 52V386.8H2040" fill="none" stroke="#404040" stroke-width="3.9" stroke-linejoin="miter"/>
<path d="M1194.5 61.8L1202.6 50.4L1210.7 61.8" fill="none" stroke="#404040" stroke-width="3.9" stroke-linecap="round" stroke-linejoin="miter"/>
<path d="M2029.8 380L2041.2 386.8L2029.8 393.6" fill="none" stroke="#404040" stroke-width="3.9" stroke-linecap="round" stroke-linejoin="miter"/>
<text transform="translate(1188.5 229.3) rotate(-90)" font-size="36.6" text-anchor="middle">Free Energy</text>
<path d="M1313.7 134.3C1315.0 140.0 1318.7 156.9 1321.6 168.4C1324.5 179.9 1327.6 192.1 1331.0 203.1C1334.4 214.1 1337.9 224.2 1342.1 234.7C1346.3 245.2 1351.3 256.8 1356.3 266.3C1361.3 275.8 1367.4 285.0 1372.1 291.6C1376.8 298.2 1381.0 302.3 1384.7 305.8C1388.4 309.3 1391.3 311.3 1394.2 312.8C1397.1 314.3 1399.2 314.9 1402.1 314.6C1405.0 314.3 1408.2 314.0 1411.6 311.2C1415.0 308.4 1418.6 303.8 1422.6 297.9C1426.5 292.0 1430.6 284.8 1435.3 275.8C1440.0 266.9 1445.2 255.8 1451.0 244.2C1456.8 232.6 1463.7 218.7 1470.0 206.3C1476.3 193.9 1482.6 181.3 1488.9 170.0C1495.2 158.7 1502.1 147.3 1507.9 138.4C1513.7 129.5 1518.4 122.3 1523.7 116.3C1529.0 110.2 1533.7 105.4 1539.5 102.1C1545.3 98.8 1552.2 95.8 1558.4 96.4C1564.7 97.0 1571.1 101.2 1577.0 105.5C1582.9 109.8 1588.3 116.0 1594.0 122.5C1599.7 129.0 1605.3 136.8 1611.0 144.6C1616.7 152.4 1621.8 160.3 1628.0 169.1C1634.2 177.9 1641.6 188.3 1648.4 197.3C1655.2 206.3 1662.0 214.7 1668.8 222.9C1675.6 231.1 1682.5 239.0 1689.3 246.7C1696.1 254.3 1702.9 261.7 1709.7 268.8C1716.5 275.9 1723.9 283.5 1730.1 289.2C1736.3 294.9 1741.4 298.7 1747.1 302.8C1752.8 306.9 1759.0 311.2 1764.1 313.8C1769.2 316.4 1774.0 317.7 1777.7 318.6C1781.4 319.6 1782.8 319.6 1786.2 319.5C1789.6 319.4 1793.3 319.3 1798.1 317.8C1802.9 316.3 1809.4 313.5 1815.1 310.4C1820.8 307.3 1826.4 303.8 1832.1 299.4C1837.8 295.0 1843.4 289.8 1849.1 284.1C1854.8 278.4 1860.4 272.2 1866.1 265.4C1871.8 258.6 1877.4 251.0 1883.1 243.3C1888.8 235.7 1894.4 227.7 1900.1 219.5C1905.8 211.3 1912.1 201.3 1917.1 193.9C1922.1 186.5 1927.9 178.3 1930.1 175.2" fill="none" stroke="#404040" stroke-width="5.6" stroke-linejoin="round"/>
<path d="M1365.8 318.7H1437M1738 324.4H1835" stroke="#404040" stroke-width="5.8" fill="none"/>
<text x="1443.8" y="330.9" font-size="35.5">EDL<tspan font-size="24" dy="8.9" dx="0.5">lp</tspan></text>
<text x="1854.2" y="335.7" font-size="35.5">EDL<tspan font-size="24" dy="8.7" dx="0.5">hp</tspan></text>
<path d="M1401.9 319C1399 345 1399.6 370 1401.9 393C1403.4 410 1404.4 425 1404.8 438" fill="none" stroke="#404040" stroke-width="6.4"/>
<path d="M1383.6 399.6L1405 442.6L1420.4 407" fill="none" stroke="#404040" stroke-width="3.6" stroke-linecap="round" stroke-linejoin="miter"/>
<path d="M1786.1 327C1779 335 1775.6 344 1777 351C1778.6 359 1783 364 1790.2 364.3C1797 364.6 1803 360 1804.2 354.5C1805 350.5 1802.5 349.4 1799 350.4C1795 351.6 1790 356 1786.5 361" fill="none" stroke="#404040" stroke-width="3.8" stroke-linecap="round"/>
<path d="M1787.5 359.5C1782 368 1781 380 1782.6 389C1784.6 401 1787 414 1787.2 424C1787.3 431 1786.6 436 1785.6 440" fill="none" stroke="#404040" stroke-width="6" stroke-linecap="round"/>
<path d="M1772.8 429.6L1785.2 442.6L1814.8 422.4" fill="none" stroke="#404040" stroke-width="3.6" stroke-linecap="round" stroke-linejoin="miter"/>
<text x="1208.8" y="566.8" font-size="24.2" textLength="167.5" lengthAdjust="spacingAndGlyphs">Bulk Electrolyte</text>
<text x="1208.7" y="611.1" font-size="24.2">EDL<tspan font-size="16.2" dy="6" dx="0.6">lp</tspan></text>
<circle cx="1243.6" cy="632.4" r="18.8" fill="url(#halo)"/><circle cx="1243.6" cy="632.4" r="16" fill="url(#glow)"/><text x="1243.6" y="640.9" font-size="25.4" text-anchor="middle" stroke="#000" stroke-width="0.35">+</text>
<circle cx="1243.6" cy="668.5" r="18.8" fill="url(#halo)"/><circle cx="1243.6" cy="668.5" r="16" fill="url(#glow)"/><text x="1243.6" y="677.0" font-size="25.4" text-anchor="middle" stroke="#000" stroke-width="0.35">+</text>
<circle cx="1319.0" cy="632.4" r="18.8" fill="url(#halo)"/><circle cx="1319.0" cy="632.4" r="16" fill="url(#glow)"/><text x="1319.0" y="640.9" font-size="25.4" text-anchor="middle" stroke="#000" stroke-width="0.35">+</text>
<circle cx="1319.0" cy="668.5" r="18.8" fill="url(#halo)"/><circle cx="1319.0" cy="668.5" r="16" fill="url(#glow)"/><text x="1319.0" y="677.0" font-size="25.4" text-anchor="middle" stroke="#000" stroke-width="0.35">+</text>
<circle cx="1388.9" cy="632.4" r="18.8" fill="url(#halo)"/><circle cx="1388.9" cy="632.4" r="16" fill="url(#glow)"/><text x="1388.9" y="640.9" font-size="25.4" text-anchor="middle" stroke="#000" stroke-width="0.35">+</text>
<circle cx="1388.9" cy="668.5" r="18.8" fill="url(#halo)"/><circle cx="1388.9" cy="668.5" r="16" fill="url(#glow)"/><text x="1388.9" y="677.0" font-size="25.4" text-anchor="middle" stroke="#000" stroke-width="0.35">+</text>
<circle cx="1461.8" cy="632.4" r="18.8" fill="url(#halo)"/><circle cx="1461.8" cy="632.4" r="16" fill="url(#glow)"/><text x="1461.8" y="640.9" font-size="25.4" text-anchor="middle" stroke="#000" stroke-width="0.35">+</text>
<circle cx="1461.8" cy="668.5" r="18.8" fill="url(#halo)"/><circle cx="1461.8" cy="668.5" r="16" fill="url(#glow)"/><text x="1461.8" y="677.0" font-size="25.4" text-anchor="middle" stroke="#000" stroke-width="0.35">+</text>
<circle cx="1552.6" cy="632.4" r="18.8" fill="url(#halo)"/><circle cx="1552.6" cy="632.4" r="16" fill="url(#glow)"/><text x="1552.6" y="640.9" font-size="25.4" text-anchor="middle" stroke="#000" stroke-width="0.35">+</text>
<circle cx="1552.6" cy="668.5" r="18.8" fill="url(#halo)"/><circle cx="1552.6" cy="668.5" r="16" fill="url(#glow)"/><text x="1552.6" y="677.0" font-size="25.4" text-anchor="middle" stroke="#000" stroke-width="0.35">+</text>
<text x="1223.0" y="720.9" font-size="24" font-weight="bold" text-anchor="middle" textLength="11.9" lengthAdjust="spacingAndGlyphs">-</text>
<text x="1259.7" y="720.9" font-size="24" font-weight="bold" text-anchor="middle" textLength="11.9" lengthAdjust="spacingAndGlyphs">-</text>
<text x="1296.3" y="720.9" font-size="24" font-weight="bold" text-anchor="middle" textLength="11.9" lengthAdjust="spacingAndGlyphs">-</text>
<text x="1333.0" y="720.9" font-size="24" font-weight="bold" text-anchor="middle" textLength="11.9" lengthAdjust="spacingAndGlyphs">-</text>
<text x="1369.6" y="720.9" font-size="24" font-weight="bold" text-anchor="middle" textLength="11.9" lengthAdjust="spacingAndGlyphs">-</text>
<text x="1406.2" y="720.9" font-size="24" font-weight="bold" text-anchor="middle" textLength="11.9" lengthAdjust="spacingAndGlyphs">-</text>
<text x="1442.9" y="720.9" font-size="24" font-weight="bold" text-anchor="middle" textLength="11.9" lengthAdjust="spacingAndGlyphs">-</text>
<text x="1479.5" y="720.9" font-size="24" font-weight="bold" text-anchor="middle" textLength="11.9" lengthAdjust="spacingAndGlyphs">-</text>
<text x="1516.2" y="720.9" font-size="24" font-weight="bold" text-anchor="middle" textLength="11.9" lengthAdjust="spacingAndGlyphs">-</text>
<text x="1552.8" y="720.9" font-size="24" font-weight="bold" text-anchor="middle" textLength="11.9" lengthAdjust="spacingAndGlyphs">-</text>
<circle cx="1243.7" cy="503.7" r="13.1" fill="#595959"/><circle cx="1228.2" cy="514.2" r="9.3" fill="#c00000"/>
<circle cx="1351.1" cy="477.1" r="9.3" fill="#c00000"/><circle cx="1355.2" cy="495.7" r="13.1" fill="#595959"/>
<circle cx="1497.4" cy="523.5" r="13.1" fill="#595959"/><circle cx="1504.9" cy="506.3" r="9.3" fill="#c00000"/>
<circle cx="1365.6" cy="585.9" r="9.3" fill="#c00000"/><circle cx="1357.2" cy="602.7" r="13.1" fill="#595959"/>
<circle cx="1506.9" cy="616.3" r="13.1" fill="#595959"/><circle cx="1497.6" cy="600.1" r="9.3" fill="#c00000"/>
<circle cx="1513.4" cy="686.2" r="16.7" fill="#fff"/><circle cx="1523.8" cy="671.4" r="12.9" fill="#fff"/><circle cx="1513.4" cy="686.2" r="13.1" fill="#595959"/><circle cx="1523.8" cy="671.4" r="9.3" fill="#c00000"/>
<line x1="1342.8" y1="609.0" x2="1326.2" y2="622.2" stroke="#000" stroke-width="1.9" marker-start="url(#ah)" marker-end="url(#ah)"/>
<line x1="1371.4" y1="608.5" x2="1386.8" y2="622.1" stroke="#000" stroke-width="1.9" marker-start="url(#ah)" marker-end="url(#ah)"/>
<line x1="1470.4" y1="630.7" x2="1493.9" y2="623.5" stroke="#000" stroke-width="1.9" marker-start="url(#ah)" marker-end="url(#ah)"/>
<line x1="1520.1" y1="618.6" x2="1542.5" y2="625.8" stroke="#000" stroke-width="1.9" marker-start="url(#ah)" marker-end="url(#ah)"/>
<line x1="1500.5" y1="631.2" x2="1475.4" y2="661.4" stroke="#000" stroke-width="1.9" marker-start="url(#ah)" marker-end="url(#ah)"/>
<line x1="1516.2" y1="628.3" x2="1541.9" y2="656.5" stroke="#000" stroke-width="1.9" marker-start="url(#ah)" marker-end="url(#ah)"/>
<line x1="1469.6" y1="673.6" x2="1495.8" y2="688.6" stroke="#000" stroke-width="1.9" marker-start="url(#ah)" marker-end="url(#ah)"/>
<line x1="1530.2" y1="693.8" x2="1546.4" y2="677.9" stroke="#000" stroke-width="1.9" marker-start="url(#ah)" marker-end="url(#ah)"/>
<text x="1589.6" y="521.2" font-size="27.5">μ</text><text x="1604.8" y="507.7" font-size="14.8" textLength="31.5" lengthAdjust="spacingAndGlyphs">Bulk</text><text x="1604.6" y="528.3" font-size="14.8" textLength="24.6" lengthAdjust="spacingAndGlyphs">CO</text>
<text x="1589.6" y="620.2" font-size="27.5">μ</text><text x="1604.8" y="606.7" font-size="14.8" textLength="31.5" lengthAdjust="spacingAndGlyphs">EDL</text><text x="1604.6" y="627.3" font-size="14.8" textLength="24.6" lengthAdjust="spacingAndGlyphs">CO</text>
<text x="1589.6" y="701.6" font-size="27.5">μ</text><text x="1604.8" y="688.1" font-size="14.8" textLength="59.5" lengthAdjust="spacingAndGlyphs">Surface</text><text x="1604.6" y="708.7" font-size="14.8" textLength="24.6" lengthAdjust="spacingAndGlyphs">CO</text>
<text x="1614.4" y="566.2" font-size="27.5" text-anchor="middle" letter-spacing="2.6" stroke="#000" stroke-width="0.5">||</text>
<text x="1614.2" y="657.9" font-size="27.5" text-anchor="middle" letter-spacing="2.6" stroke="#000" stroke-width="0.5">||</text>
<text x="1870.4" y="526.7" font-size="24.2" textLength="168" lengthAdjust="spacingAndGlyphs">Bulk Electrolyte</text>
<text x="1973.9" y="567.1" font-size="24.7">EDL<tspan font-size="16.5" dy="5.7" dx="0.4">hp</tspan></text>
<circle cx="1783.7" cy="562.6" r="18.8" fill="url(#halo)"/><circle cx="1783.7" cy="562.6" r="16" fill="url(#glow)"/><text x="1783.7" y="571.1" font-size="25.4" text-anchor="middle" stroke="#000" stroke-width="0.35">+</text>
<circle cx="1923.9" cy="561.0" r="18.8" fill="url(#halo)"/><circle cx="1923.9" cy="561.0" r="16" fill="url(#glow)"/><text x="1923.9" y="569.5" font-size="25.4" text-anchor="middle" stroke="#000" stroke-width="0.35">+</text>
<circle cx="1840.3" cy="596.4" r="18.8" fill="url(#halo)"/><circle cx="1840.3" cy="596.4" r="16" fill="url(#glow)"/><text x="1840.3" y="604.9" font-size="25.4" text-anchor="middle" stroke="#000" stroke-width="0.35">+</text>
<circle cx="1863.3" cy="622.8" r="18.8" fill="url(#halo)"/><circle cx="1863.3" cy="622.8" r="16" fill="url(#glow)"/><text x="1863.3" y="631.2" font-size="25.4" text-anchor="middle" stroke="#000" stroke-width="0.35">+</text>
<circle cx="1795.1" cy="633.3" r="18.8" fill="url(#halo)"/><circle cx="1795.1" cy="633.3" r="16" fill="url(#glow)"/><text x="1795.1" y="641.8" font-size="25.4" text-anchor="middle" stroke="#000" stroke-width="0.35">+</text>
<circle cx="1699.1" cy="660.1" r="18.8" fill="url(#halo)"/><circle cx="1699.1" cy="660.1" r="16" fill="url(#glow)"/><text x="1699.1" y="668.6" font-size="25.4" text-anchor="middle" stroke="#000" stroke-width="0.35">+</text>
<circle cx="2019.3" cy="644.7" r="18.8" fill="url(#halo)"/><circle cx="2019.3" cy="644.7" r="16" fill="url(#glow)"/><text x="2019.3" y="653.2" font-size="25.4" text-anchor="middle" stroke="#000" stroke-width="0.35">+</text>
<text x="1696.4" y="720.6" font-size="24" font-weight="bold" text-anchor="middle" textLength="11.9" lengthAdjust="spacingAndGlyphs">-</text>
<text x="1753.4" y="720.6" font-size="24" font-weight="bold" text-anchor="middle" textLength="11.9" lengthAdjust="spacingAndGlyphs">-</text>
<text x="1810.6" y="720.6" font-size="24" font-weight="bold" text-anchor="middle" textLength="11.9" lengthAdjust="spacingAndGlyphs">-</text>
<text x="1867.5" y="720.6" font-size="24" font-weight="bold" text-anchor="middle" textLength="11.9" lengthAdjust="spacingAndGlyphs">-</text>
<text x="1924.3" y="720.6" font-size="24" font-weight="bold" text-anchor="middle" textLength="11.9" lengthAdjust="spacingAndGlyphs">-</text>
<text x="1981.1" y="720.6" font-size="24" font-weight="bold" text-anchor="middle" textLength="11.9" lengthAdjust="spacingAndGlyphs">-</text>
<text x="2029.2" y="720.6" font-size="24" font-weight="bold" text-anchor="middle" textLength="11.9" lengthAdjust="spacingAndGlyphs">-</text>
<circle cx="1715.2" cy="499.8" r="9.3" fill="#c00000"/><circle cx="1702.2" cy="513.2" r="13.1" fill="#595959"/>
<circle cx="1832.3" cy="532.8" r="13.1" fill="#595959"/><circle cx="1829.6" cy="514.2" r="9.3" fill="#c00000"/>
<circle cx="1944.0" cy="474.0" r="13.1" fill="#595959"/><circle cx="1930.5" cy="487.8" r="9.3" fill="#c00000"/>
<circle cx="1735.2" cy="611.6" r="13.1" fill="#595959"/><circle cx="1745.5" cy="595.7" r="9.3" fill="#c00000"/>
<circle cx="1928.5" cy="600.9" r="9.3" fill="#c00000"/><circle cx="1939.8" cy="615.8" r="13.1" fill="#595959"/>
<circle cx="1754.4" cy="689.2" r="17.9" fill="#fff"/><circle cx="1749.9" cy="670.8" r="14.1" fill="#fff"/><circle cx="1754.4" cy="689.2" r="13.1" fill="#595959"/><circle cx="1749.9" cy="670.8" r="9.3" fill="#c00000"/>
<circle cx="1823.9" cy="686.8" r="17.9" fill="#fff"/><circle cx="1833.0" cy="668.7" r="14.1" fill="#fff"/><circle cx="1823.9" cy="686.8" r="13.1" fill="#595959"/><circle cx="1833.0" cy="668.7" r="9.3" fill="#c00000"/>
<circle cx="1907.2" cy="686.0" r="17.9" fill="#fff"/><circle cx="1893.8" cy="672.5" r="14.1" fill="#fff"/><circle cx="1893.8" cy="672.5" r="9.3" fill="#c00000"/><circle cx="1907.2" cy="686.0" r="13.1" fill="#595959"/>
<circle cx="1958.4" cy="688.4" r="17.9" fill="#fff"/><circle cx="1965.6" cy="669.4" r="14.1" fill="#fff"/><circle cx="1958.4" cy="688.4" r="13.1" fill="#595959"/><circle cx="1965.6" cy="669.4" r="9.3" fill="#c00000"/>
<line x1="1723.8" y1="625.7" x2="1706.9" y2="643.2" stroke="#000" stroke-width="2.3" stroke-dasharray="2.1 2" marker-start="url(#ahs)" marker-end="url(#ahs)"/>
<line x1="1751.7" y1="617.4" x2="1770.9" y2="631.2" stroke="#000" stroke-width="2.3" stroke-dasharray="2.1 2" marker-start="url(#ahs)" marker-end="url(#ahs)"/>
<line x1="1713.9" y1="670.9" x2="1733.1" y2="683.3" stroke="#000" stroke-width="2.3" stroke-dasharray="2.1 2" marker-start="url(#ahs)" marker-end="url(#ahs)"/>
<line x1="1768.9" y1="676.7" x2="1779.6" y2="657.0" stroke="#000" stroke-width="2.3" stroke-dasharray="2.1 2" marker-start="url(#ahs)" marker-end="url(#ahs)"/>
<line x1="1798.6" y1="653.5" x2="1812.2" y2="668.4" stroke="#000" stroke-width="2.3" stroke-dasharray="2.1 2" marker-start="url(#ahs)" marker-end="url(#ahs)"/>
</g>
</svg></body></html>
